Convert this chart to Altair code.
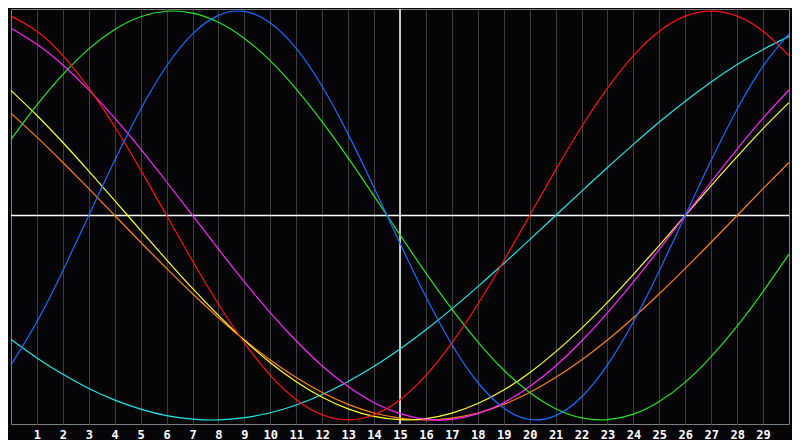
import altair as alt
import pandas as pd

days = list(range(31))
tick_days = list(range(1, 30))

physical = [-0.731, -0.520, -0.270, 0.000, 0.270, 0.520, 0.731, 0.888, 0.979, 0.998, 0.942,
            0.817, 0.631, 0.398, 0.136, -0.136, -0.398, -0.631, -0.817, -0.942, -0.998,
            -0.979, -0.888, -0.731, -0.520, -0.270, 0.000, 0.270, 0.520, 0.731, 0.888]
emotional = [0.975, 0.901, 0.782, 0.623, 0.434, 0.223, 0.000, -0.223, -0.434, -0.623, -0.782,
             -0.901, -0.975, -1.000, -0.975, -0.901, -0.782, -0.623, -0.434, -0.223, 0.000,
             0.223, 0.434, 0.623, 0.782, 0.901, 0.975, 1.000, 0.975, 0.901, 0.782]
intellectual = [0.372, 0.541, 0.690, 0.815, 0.910, 0.972, 0.999, 0.990, 0.945, 0.866, 0.756,
                0.618, 0.458, 0.282, 0.095, -0.095, -0.282, -0.458, -0.618, -0.756, -0.866,
                -0.945, -0.990, -0.999, -0.972, -0.910, -0.815, -0.690, -0.541, -0.372, -0.189]
intuitive = [0.916, 0.837, 0.736, 0.614, 0.476, 0.325, 0.165, 0.000, -0.165, -0.325, -0.476,
             -0.614, -0.736, -0.837, -0.916, -0.969, -0.997, -0.997, -0.969, -0.916, -0.837,
             -0.736, -0.614, -0.476, -0.325, -0.165, 0.000, 0.165, 0.325, 0.476, 0.614]
aesthetic = [0.611, 0.489, 0.357, 0.217, 0.073, -0.073, -0.217, -0.357, -0.489, -0.611, -0.720,
             -0.813, -0.889, -0.946, -0.983, -0.999, -0.994, -0.967, -0.920, -0.854, -0.769,
             -0.667, -0.552, -0.425, -0.288, -0.146, 0.000, 0.146, 0.288, 0.425, 0.552]
awareness = [0.500, 0.383, 0.259, 0.131, 0.000, -0.131, -0.259, -0.383, -0.500, -0.609, -0.707,
             -0.793, -0.866, -0.924, -0.966, -0.991, -1.000, -0.991, -0.966, -0.924, -0.866,
             -0.793, -0.707, -0.609, -0.500, -0.383, -0.259, -0.131, 0.000, 0.131, 0.259]
spiritual = [-0.607, -0.697, -0.777, -0.846, -0.903, -0.947, -0.979, -0.996, -1.000, -0.989, -0.965,
             -0.927, -0.876, -0.812, -0.738, -0.653, -0.559, -0.457, -0.348, -0.235, -0.118,
             0.000, 0.118, 0.235, 0.348, 0.457, 0.559, 0.653, 0.738, 0.812, 0.876]

cycle_names = ["Spiritual", "Awareness", "Aesthetic", "Intuitive", "Intellectual", "Emotional", "Physical"]
cycle_values = [spiritual, awareness, aesthetic, intuitive, intellectual, emotional, physical]
cycle_colors = ["#22e6e6", "#ff8011", "#ffff22", "#ff22ff", "#22e622", "#ff1010", "#1a6cff"]

rows = []
for name, vals in zip(cycle_names, cycle_values):
    for d, v in zip(days, vals):
        rows.append({"day": d, "value": v, "cycle": name})
df = pd.DataFrame(rows)

x_scale = alt.Scale(domain=[0, 30], nice=False, zero=False)
y_scale = alt.Scale(domain=[-1.02, 1.01], nice=False, zero=False)

x_axis = alt.Axis(values=tick_days, format="d", grid=True, gridColor="#3c3c3c", gridWidth=1,
                  ticks=False, domain=False, labelColor="#ffffff", labelFont="DejaVu Sans Mono",
                  labelFontSize=12, labelFontWeight="bold", labelPadding=5, labelFlush=False,
                  title=None)

hline = alt.Chart(pd.DataFrame({"value": [0]})).mark_rule(color="#ffffff", strokeWidth=1.5).encode(
    y=alt.Y("value:Q", scale=y_scale, axis=None)
)
vline = alt.Chart(pd.DataFrame({"day": [15]})).mark_rule(color="#ffffff", strokeWidth=1.5).encode(
    x=alt.X("day:Q", scale=x_scale, axis=x_axis)
)
lines = alt.Chart(df).mark_line(strokeWidth=1.2, interpolate="natural").encode(
    x=alt.X("day:Q", scale=x_scale, axis=x_axis),
    y=alt.Y("value:Q", scale=y_scale, axis=None),
    color=alt.Color("cycle:N", scale=alt.Scale(domain=cycle_names, range=cycle_colors), legend=None),
    order=alt.Order("day:Q"),
)

chart = alt.layer(hline, vline, lines).properties(
    width=784,
    height=432,
    padding=0,
    autosize=alt.AutoSizeParams(type="fit", contains="padding"),
    background="#050508",
).configure_view(stroke="#808080", strokeWidth=1)

chart.save("out.html", embed_options={"renderer": "svg", "actions": False})
